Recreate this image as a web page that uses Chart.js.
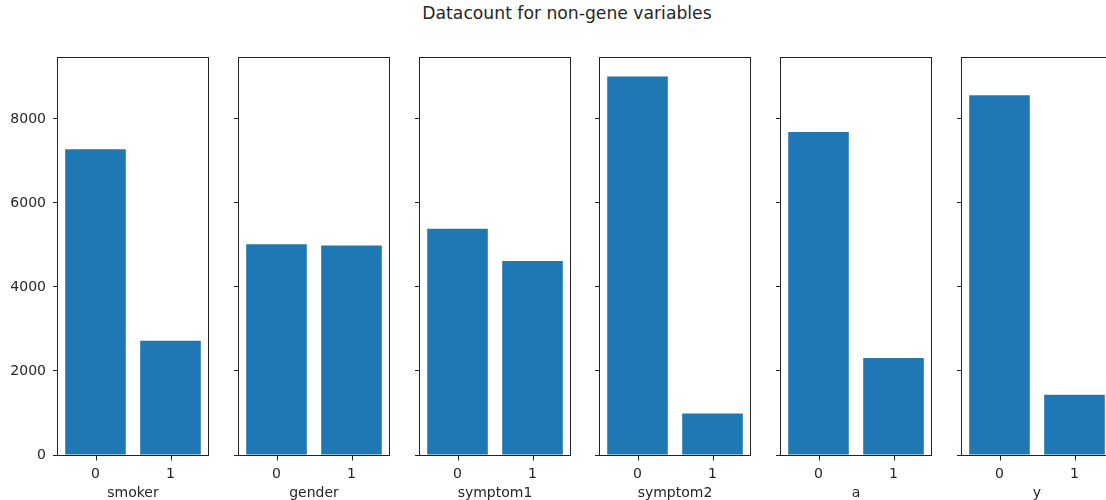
<!DOCTYPE html>
<html>
<head>
<meta charset="utf-8">
<script src="https://cdn.jsdelivr.net/npm/chart.js@4/dist/chart.umd.min.js"></script>
<style>
  html, body { margin: 0; padding: 0; background: #fff; overflow: hidden; }
  #fig { position: relative; width: 1140px; height: 500px; }
  #title {
    position: absolute; left: 0; width: 1134px; top: 3px;
    text-align: center; font-family: "DejaVu Sans", sans-serif;
    font-size: 17.2px; color: #262626; line-height: 20px;
  }
  canvas { position: absolute; }
</style>
</head>
<body>
<div id="fig">
  <div id="title">Datacount for non-gene variables</div>
</div>
<script>
// Counts per binary variable (value 0 / value 1)
const variables = ['smoker', 'gender', 'symptom1', 'symptom2', 'a', 'y'];
const countZero = [7280, 5015, 5385, 9010, 7690, 8565];
const countOne  = [2720, 4985, 4615, 990, 2310, 1435];
const levelLabels = ['0', '1'];
const yTickValues = [0, 2000, 4000, 6000, 8000];
const yMax = 9450;

// Panel layout (shared y axis, one panel per variable)
const firstLeft = 58, step = 180.8, panelW = 150;
const panelTop = 58, panelH = 397;
const yAxisW = 50, padTop = 10, padRight = 10, xAxisH = 50;

const barColor = '#1f77b4';
const inkColor = '#262626';
const spineColor = '#222222';
const font = { family: '"DejaVu Sans", sans-serif', size: 14 };
const tickLen = 5;

// Full box (all four spines) around the plot area, plus x tick marks at category centres
const boxPlugin = {
  id: 'box',
  afterDraw(chart) {
    const a = chart.chartArea, ctx = chart.ctx;
    const l = Math.round(a.left) - 0.5, t = Math.round(a.top) - 0.5;
    const r = Math.round(a.right) + 0.5, b = Math.round(a.bottom) + 0.5;
    ctx.save();
    ctx.strokeStyle = spineColor;
    ctx.lineWidth = 1;
    ctx.strokeRect(l, t, r - l, b - t);
    const xs = chart.scales.x;
    ctx.beginPath();
    xs.ticks.forEach((tk, k) => {
      const px = Math.round(xs.getPixelForTick(k)) + 0.5;
      ctx.moveTo(px, b);
      ctx.lineTo(px, b + tickLen);
    });
    ctx.stroke();
    ctx.restore();
  }
};

const fig = document.getElementById('fig');

variables.forEach((name, i) => {
  const canvas = document.createElement('canvas');
  const left = Math.round(firstLeft + i * step) - yAxisW;
  const w = yAxisW + panelW + padRight;
  const h = padTop + panelH + xAxisH;
  canvas.style.left = left + 'px';
  canvas.style.top = (panelTop - padTop) + 'px';
  canvas.style.width = w + 'px';
  canvas.style.height = h + 'px';
  canvas.width = w; canvas.height = h;
  fig.appendChild(canvas);

  new Chart(canvas, {
    type: 'bar',
    data: {
      labels: levelLabels,
      datasets: [{
        data: [countZero[i], countOne[i]],
        backgroundColor: barColor,
        borderWidth: 0,
        barPercentage: 1.0,
        categoryPercentage: 0.808
      }]
    },
    options: {
      responsive: false,
      animation: false,
      devicePixelRatio: 1,
      layout: { padding: { top: padTop, right: padRight, left: 0, bottom: 0 } },
      plugins: { legend: { display: false }, tooltip: { enabled: false }, title: { display: false } },
      scales: {
        x: {
          grid: { display: true, drawOnChartArea: false, drawTicks: true, tickLength: tickLen, color: 'rgba(0,0,0,0)' },
          border: { display: false },
          ticks: { color: inkColor, font: font, padding: 6, maxRotation: 0 },
          title: { display: true, text: name, color: inkColor, font: font, padding: { top: 0, bottom: 3 } },
          afterFit(scale) { scale.height = xAxisH; scale.paddingLeft = 0; scale.paddingRight = 0; }
        },
        y: {
          min: 0, max: yMax,
          grid: { display: true, drawOnChartArea: false, tickLength: tickLen, color: spineColor, tickColor: spineColor },
          border: { display: false },
          ticks: { display: i === 0, color: inkColor, font: font, padding: 7, callback: v => String(v) },
          afterBuildTicks(scale) { scale.ticks = yTickValues.map(v => ({ value: v })); },
          afterFit(scale) { scale.width = yAxisW; scale.paddingTop = 0; scale.paddingBottom = 0; }
        }
      }
    },
    plugins: [boxPlugin]
  });
});
</script>
</body>
</html>
